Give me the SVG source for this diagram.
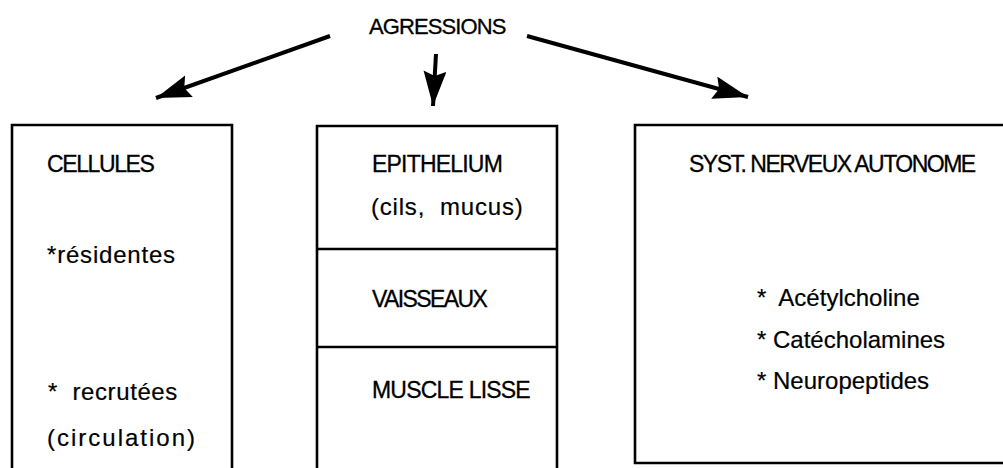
<svg xmlns="http://www.w3.org/2000/svg" width="1003" height="468" viewBox="0 0 1003 468">
<style>
  .box { fill: none; stroke: #000; stroke-width: 2.6; }
  .conn { stroke: #000; stroke-width: 4; fill: none; }
  .up { font-family: "Liberation Sans", Arial, sans-serif; font-size: 23px; fill: #000; stroke: #000; stroke-width: 0.3; }
  .lo { font-family: "Liberation Sans", Arial, sans-serif; font-size: 24px; fill: #000; stroke: #000; stroke-width: 0.2; }
</style>
<defs>
  <marker id="ah" markerUnits="userSpaceOnUse" markerWidth="40" markerHeight="30" refX="35" refY="11.5" orient="auto">
    <path d="M0,0 L35,11.5 L0,23 L5,11.5 Z" fill="#000"/>
  </marker>
</defs>
<rect width="1003" height="468" fill="#fff"/>

<g id="agressions">
  <text class="up" x="369" y="34" style="font-size:22px;letter-spacing:-0.9px">AGRESSIONS</text>
</g>

<g id="connectors">
  <line class="conn" x1="330" y1="36" x2="156" y2="98" marker-end="url(#ah)"/>
  <line class="conn" x1="436" y1="54" x2="433" y2="106" marker-end="url(#ah)"/>
  <line class="conn" x1="527" y1="36" x2="748" y2="97" marker-end="url(#ah)"/>
</g>

<g id="cellules">
  <path class="box" d="M12,470 V125 H232 V470"/>
  <text class="up" x="47" y="172" style="letter-spacing:-1.4px">CELLULES</text>
  <text class="lo" x="47" y="263" style="letter-spacing:0.8px">*résidentes</text>
  <text class="lo" x="48" y="400" xml:space="preserve" style="letter-spacing:0.6px">*  recrutées</text>
  <text class="lo" x="47" y="446" style="letter-spacing:2px">(circulation)</text>
</g>

<g id="tissus">
  <path class="box" d="M317,470 V126 H557 V470"/>
  <line class="box" x1="317" y1="249" x2="557" y2="249"/>
  <line class="box" x1="317" y1="347" x2="557" y2="347"/>
  <text class="up" x="372" y="172" style="letter-spacing:-0.8px">EPITHELIUM</text>
  <text class="lo" x="371" y="215" xml:space="preserve" style="letter-spacing:0.8px">(cils,  mucus)</text>
  <text class="up" x="372" y="307" style="letter-spacing:-1.6px">VAISSEAUX</text>
  <text class="up" x="372" y="398" style="letter-spacing:-0.8px">MUSCLE LISSE</text>
</g>

<g id="sna">
  <path class="box" d="M1010,125 H635 V463 H1010"/>
  <text class="up" x="689" y="172" style="letter-spacing:-1.5px">SYST. NERVEUX AUTONOME</text>
  <text class="lo" x="757" y="306" xml:space="preserve">*  Acétylcholine</text>
  <text class="lo" x="757" y="348">* Catécholamines</text>
  <text class="lo" x="757" y="389">* Neuropeptides</text>
</g>
</svg>
